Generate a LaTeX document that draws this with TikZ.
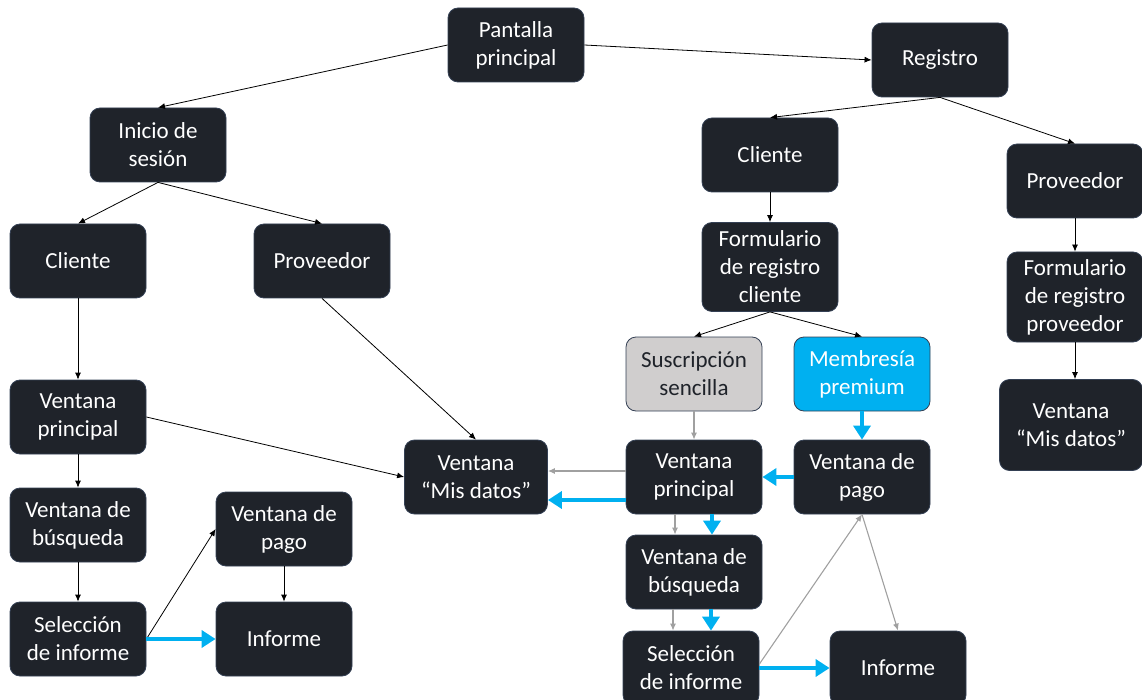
\documentclass[tikz,border=0pt]{standalone}
\usepackage{fontspec}
\setmainfont{Carlito}
\usepackage{tikz}
\usetikzlibrary{positioning}
\usetikzlibrary{arrows.meta}
\definecolor{boxdark}{RGB}{31,35,42}
\definecolor{boxline}{RGB}{52,64,84}
\definecolor{boxgray}{RGB}{208,206,206}
\definecolor{boxblue}{RGB}{0,176,240}
\definecolor{linegray}{RGB}{160,160,160}
\tikzset{box/.style={draw=boxline, line width=0.8pt, fill=boxdark, text=white, rounded corners=10pt,
  minimum width=136pt, minimum height=74pt, inner sep=0pt, align=center,
  font=\fontsize{23}{28}\selectfont}}
\tikzset{graybox/.style={box, fill=boxgray, text=boxdark}}
\tikzset{bluebox/.style={box, fill=boxblue, text=white}}
\tikzset{conn/.style={-{Latex[length=7pt,width=6pt]}, line width=0.8pt, black}}
\tikzset{grayconn/.style={-{Latex[length=7pt,width=6pt]}, line width=1.1pt, linegray}}
\tikzset{blueconn/.style={-{Triangle[length=14pt,width=17pt]}, line width=4.5pt, boxblue}}

\begin{document}
\begin{tikzpicture}[x=1pt,y=-1pt]
\useasboundingbox (0,0) rectangle (1142,700);
\node[box] (pant) at (516,45) {Pantalla\\principal};
\node[box] (reg) at (940,60) {Registro};
\node[box] (ini) at (158,145) {Inicio de\\sesión};
\node[box] (cliR) at (770,155) {Cliente};
\node[box] (provR) at (1075,181) {Proveedor};
\node[box] (cliL) at (78,261) {Cliente};
\node[box] (provL) at (322,261) {Proveedor};
\node[box, minimum height=89pt] (formC) at (770,267) {Formulario\\de registro\\cliente};
\node[box, minimum height=90pt] (formP) at (1075,297) {Formulario\\de registro\\proveedor};
\node[graybox] (sus) at (694,374) {Suscripción\\sencilla};
\node[bluebox] (mem) at (862,374) {Membresía\\premium};
\node[box] (vpL) at (78,417) {Ventana\\principal};
\node[box, minimum width=143pt, minimum height=91pt] (mdR) at (1071,425) {Ventana\\“Mis datos”};
\node[box, minimum width=143pt] (mdC) at (476,477) {Ventana\\“Mis datos”};
\node[box] (vpC) at (694,477) {Ventana\\principal};
\node[box] (pagoC) at (862,477) {Ventana de\\pago};
\node[box] (bqL) at (78,525) {Ventana de\\búsqueda};
\node[box] (pagoL) at (284,529) {Ventana de\\pago};
\node[box] (bqC) at (694,572) {Ventana de\\búsqueda};
\node[box] (selL) at (78,639) {Selección\\de informe};
\node[box] (infL) at (284,639) {Informe};
\node[box] (selC) at (691,668) {Selección\\de informe};
\node[box] (infC) at (898,668) {Informe};

\draw[conn] (pant.west) -- (ini.north);
\draw[conn] (pant.east) -- (reg.west);
\draw[conn] (ini.south) -- (cliL.north);
\draw[conn] (ini.south) -- (provL.north);
\draw[conn] (reg.south) -- (cliR.north);
\draw[conn] (reg.south) -- (provR.north);
\draw[conn] (cliR) -- (formC);
\draw[conn] (provR) -- (formP);
\draw[conn] (formP.south) -- (formP.south |- mdR.north);
\draw[conn] (formC.south) -- (sus.north);
\draw[conn] (formC.south) -- (mem.north);
\draw[conn] (cliL) -- (vpL);
\draw[conn] (vpL) -- (bqL);
\draw[conn] (bqL) -- (selL);
\draw[conn] (vpL.east) -- (mdC.west);
\draw[conn] (provL.south) -- (mdC.north);
\draw[conn] (selL.east) -- (pagoL.west);
\draw[conn] (pagoL) -- (infL);
\draw[blueconn] (selL.east) -- (infL.west);
% rama central
\draw[grayconn] (sus) -- (vpC);
\draw[blueconn] (mem) -- (pagoC);
\draw[blueconn] (pagoC) -- (vpC);
\draw[grayconn] ([yshift=6pt]vpC.west) -- ([yshift=6pt]mdC.east);
\draw[blueconn] ([yshift=-23pt]vpC.west) -- ([yshift=-23pt]mdC.east);
\draw[grayconn] ([xshift=-19pt]vpC.south) -- ([xshift=-19pt]vpC.south |- bqC.north);
\draw[blueconn] ([xshift=18pt]vpC.south) -- ([xshift=18pt]vpC.south |- bqC.north);
\draw[grayconn] ([xshift=-21pt]bqC.south) -- ([xshift=-21pt]bqC.south |- selC.north);
\draw[blueconn] ([xshift=17pt]bqC.south) -- ([xshift=17pt]bqC.south |- selC.north);
\draw[grayconn] ([yshift=4pt]selC.east) -- (pagoC.south);
\draw[grayconn] (pagoC.south) -- (infC.north);
\draw[blueconn] (selC.east) -- (infC.west);
\end{tikzpicture}
\end{document}
